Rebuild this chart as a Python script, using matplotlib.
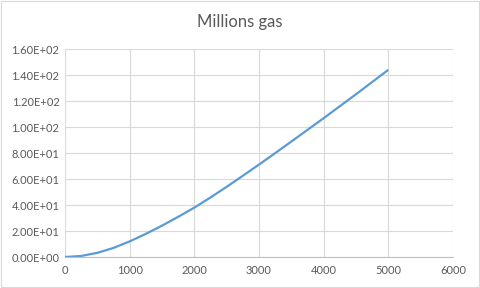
import matplotlib.pyplot as plt
from matplotlib.ticker import FuncFormatter
from matplotlib.patches import Rectangle

# values
x_vals = [0, 250, 500, 750, 1000, 1250, 1500, 1750, 2000, 2250, 2500, 2750,
          3000, 3250, 3500, 3750, 4000, 4250, 4500, 4750, 5000]
gas = [0, 0.8, 3.2, 7.0, 12.0, 17.8, 24.1, 30.9, 38.0, 45.8, 54.0, 62.5,
       71.1, 79.9, 88.8, 97.8, 106.8, 116.0, 125.2, 134.6, 144.0]
title = "Millions gas"

plt.rcParams['font.family'] = ['Lato', 'DejaVu Sans']
fig = plt.figure(figsize=(4.8, 2.88), dpi=100)
ax = fig.add_axes([0.1354, 0.1076, 0.8083, 0.7222])

ax.plot(x_vals, gas, color='#5b9bd5', linewidth=1.6, solid_capstyle='butt')

ax.set_xlim(0, 6000)
ax.set_ylim(0, 160)
ax.set_xticks(range(0, 6001, 1000))
ax.set_yticks(range(0, 161, 20))
ax.yaxis.set_major_formatter(FuncFormatter(lambda v, p: f"{v:.2E}"))
ax.grid(True, color='#d9d9d9', linewidth=0.8)
ax.set_axisbelow(True)
for s in ['top', 'right', 'left']:
    ax.spines[s].set_visible(False)
ax.spines['bottom'].set_color('#bfbfbf')
ax.tick_params(length=0, labelsize=8, colors='#595959', pad=6)
ax.tick_params(axis='y', pad=4)

fig.text(0.5, 0.925, title, ha='center', va='center', fontsize=12, color='#595959')
fig.patches.append(Rectangle((0.002, 0.003), 0.995, 0.993, transform=fig.transFigure,
                             fill=False, edgecolor='#d9d9d9', linewidth=0.8))

fig.savefig('out.png', dpi=100)
